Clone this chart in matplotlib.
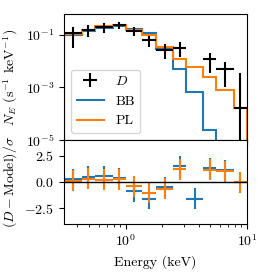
import numpy as np
import matplotlib
matplotlib.use('Agg')
import matplotlib.pyplot as plt
from matplotlib.ticker import NullLocator, FixedLocator, FuncFormatter

plt.rcParams['font.family'] = 'serif'
plt.rcParams['font.serif'] = ['cmr10']
plt.rcParams['mathtext.fontset'] = 'cm'
plt.rcParams['axes.formatter.use_mathtext'] = True
plt.rcParams['axes.unicode_minus'] = False
plt.rcParams['font.size'] = 10

# energy bin edges (keV)
edges = [0.31, 0.437, 0.557, 0.782, 1.01, 1.365, 1.78, 2.46, 3.16, 4.34, 5.59, 7.76, 10.0]

# observed spectrum (nan = empty bin)
data = [0.115, 0.155, 0.19, 0.224, 0.141, 0.062, 0.027, 0.032, np.nan, 0.012, 0.0051, 0.00017]
data_err = [0.083, 0.077, 0.076, 0.066, 0.052, 0.029, 0.015, 0.018, np.nan, 0.0086, 0.0041, 0.0032]

# model spectra
bb_model = [0.094, 0.142, 0.179, 0.219, 0.168, 0.114, 0.0284, 0.0050, 0.00065, 2.5e-5, 1e-6, 1e-8]
pl_model = [0.106, 0.155, 0.206, 0.232, 0.145, 0.096, 0.034, 0.0121, 0.0059, 0.00245, 0.0008, 0.00016]

# residuals (D - model) / sigma
bb_resid = [0.25, 0.48, 0.57, 0.38, -0.86, -1.58, -0.48, 1.52, -1.58, 1.33, 1.11, 0.0]
pl_resid = [0.13, 0.32, 0.23, 0.26, -0.41, -1.01, -0.63, 1.21, np.nan, 1.18, 1.02, -0.03]

edges = np.array(edges)
centers = np.sqrt(edges[:-1] * edges[1:])
xerr = [centers - edges[:-1], edges[1:] - centers]

fig = plt.figure(figsize=(2.65, 2.73), dpi=100)
W, H = 265, 273
ax1 = fig.add_axes([64 / W, 1 - 140 / H, 183 / W, 126 / H])
ax2 = fig.add_axes([64 / W, 1 - 224 / H, 183 / W, 84 / H], sharex=ax1)

# spectrum panel
h_d = ax1.errorbar(centers, data, xerr=xerr, yerr=data_err, fmt='none', ecolor='k',
                   elinewidth=1.5, label='$D$', zorder=3)
h_bb = ax1.stairs(bb_model, edges, color='C0', lw=1.5, label='BB')
h_pl = ax1.stairs(pl_model, edges, color='C1', lw=1.5, label='PL')
ax1.set_xscale('log')
ax1.set_yscale('log')
ax1.set_xlim(0.31, 10)
ax1.set_ylim(1e-5, 0.6)
ax1.yaxis.set_major_locator(FixedLocator([1e-5, 1e-3, 1e-1]))
ax1.yaxis.set_minor_locator(NullLocator())
ax1.tick_params(axis='x', labelbottom=False)
ax1.set_ylabel('$N_E$ (s$^{-1}$ keV$^{-1}$)')
ax1.legend(handles=[h_d, h_bb, h_pl], loc='lower left')

# residual panel
ax2.errorbar(centers, bb_resid, xerr=xerr, yerr=1, fmt='none', ecolor='C0', elinewidth=1.5)
ax2.errorbar(centers, pl_resid, xerr=xerr, yerr=1, fmt='none', ecolor='C1', elinewidth=1.5)
ax2.axhline(0, color='k', lw=1)
ax2.set_ylim(-4, 4)
ax2.set_yticks([-2.5, 0.0, 2.5])
ax2.yaxis.set_major_formatter(FuncFormatter(lambda v, pos: f'${v:.1f}$'))
ax2.set_xlabel('Energy (keV)')
ax2.set_ylabel(r'$(D - \mathrm{Model})/\sigma$')

fig.savefig('out.png', dpi=100)
